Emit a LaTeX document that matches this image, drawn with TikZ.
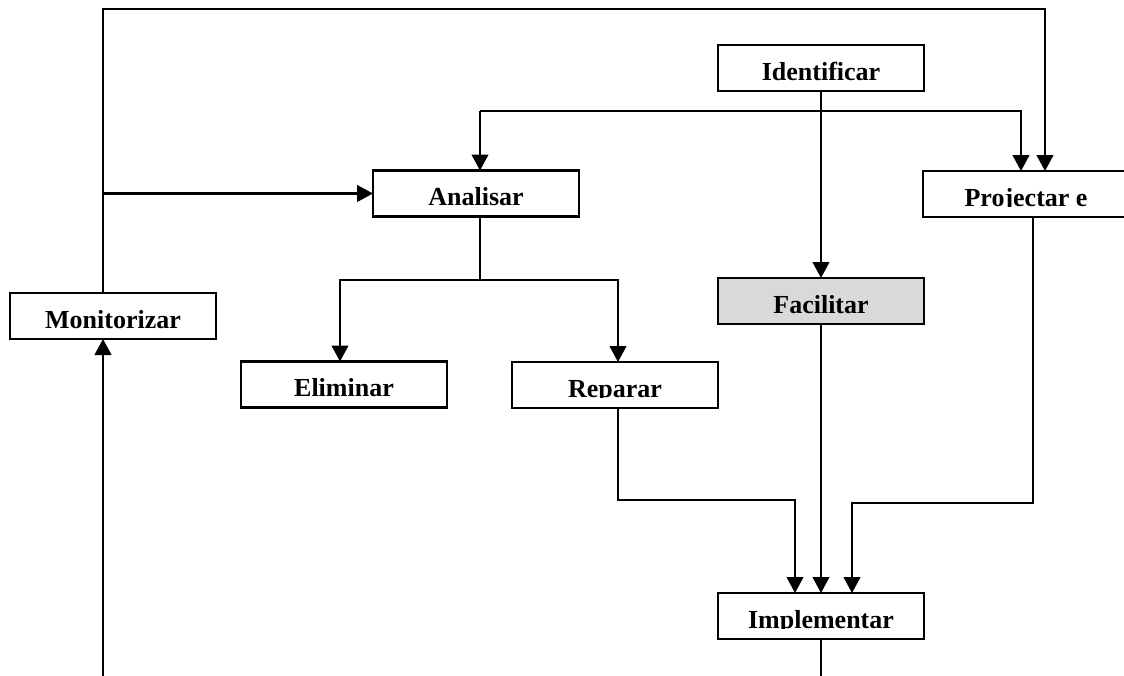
\documentclass[tikz,border=0pt]{standalone}
\usepackage{fontspec}
\setmainfont{Liberation Serif}
\usetikzlibrary{arrows.meta}
\tikzset{
  box/.style={draw, line width=1.6pt, minimum width=154.5pt, minimum height=34.5pt, inner sep=0pt, outer sep=0pt},
  lbl/.style={inner sep=0pt, outer sep=0pt, font=\fontsize{19.5}{20}\selectfont\bfseries},
  ln/.style={line width=1.6pt},
  arr/.style={ln, -{Triangle[length=12pt,width=12.5pt]}}
}
\newcommand{\boxlabel}[2]{%
  \begin{scope}
    \clip ([yshift=7.6pt]#1.south west) rectangle (#1.north east);
    \node[lbl, anchor=base] (#1-t) at ([yshift=8.25pt]#1.south) {#2};
  \end{scope}}
\begin{document}
\begin{tikzpicture}[x=0.75pt, y=-0.75pt]
\useasboundingbox (0,0) rectangle (1124,675);
\clip (0,0) rectangle (1124,675);
% boxes
\node[box] (ident) at (821,68) {};
\node[box] (ana) at (476,193.5) {};
\node[box] (proj) at (1026,194) {};
\node[box] (mon) at (113,316) {};
\node[box, fill={rgb,255:red,217;green,217;blue,217}] (fac) at (821,301) {};
\node[box] (elim) at (344,384.5) {};
\node[box] (rep) at (615,385) {};
\node[box] (impl) at (821,616) {};
\boxlabel{ident}{Identificar}
\boxlabel{ana}{Analisar}
\boxlabel{proj}{Projectar e}
\boxlabel{mon}{Monitorizar}
\boxlabel{fac}{Facilitar}
\boxlabel{elim}{Eliminar}
\boxlabel{rep}{Reparar}
\boxlabel{impl}{Implementar}
% coordinates
\coordinate (t1) at (103,9);
\coordinate (t2) at (1045,9);
\coordinate (j1) at (103,193.5);
\coordinate (b1) at (480,111);
\coordinate (b2) at (1021,111);
\coordinate (c1) at (480,280);
\coordinate (d1) at (795,500);
\coordinate (d2) at (852,503);
\coordinate (e1) at (821,680);
\coordinate (e2) at (103,680);
% connectors
\draw[arr] ([xshift=-7.5pt]mon.north) -- (t1) -- (t2) -- ([xshift=14.25pt]proj.north);
\draw[arr] (j1) -- (ana.west);
\draw[arr] (ident.south) -- (fac.north);
\draw[arr] (fac.south) -- (impl.north);
\draw[arr] (b1) -- ([xshift=3pt]ana.north);
\draw[arr] (b1) -- (b2) -- ([xshift=-3.75pt]proj.north);
\draw[ln] ([xshift=3pt]ana.south) -- (c1);
\draw[arr] (c1) -| ([xshift=-3pt]elim.north);
\draw[arr] (c1) -| ([xshift=2.25pt]rep.north);
\draw[arr] ([xshift=2.25pt]rep.south) |- (d1) -- ([xshift=-19.5pt]impl.north);
\draw[arr] ([xshift=5.25pt]proj.south) |- (d2) -- ([xshift=23.25pt]impl.north);
\draw[ln] (impl.south) -- (e1);
\draw[arr] (e2) -- ([xshift=-7.5pt]mon.south);
\end{tikzpicture}
\end{document}
